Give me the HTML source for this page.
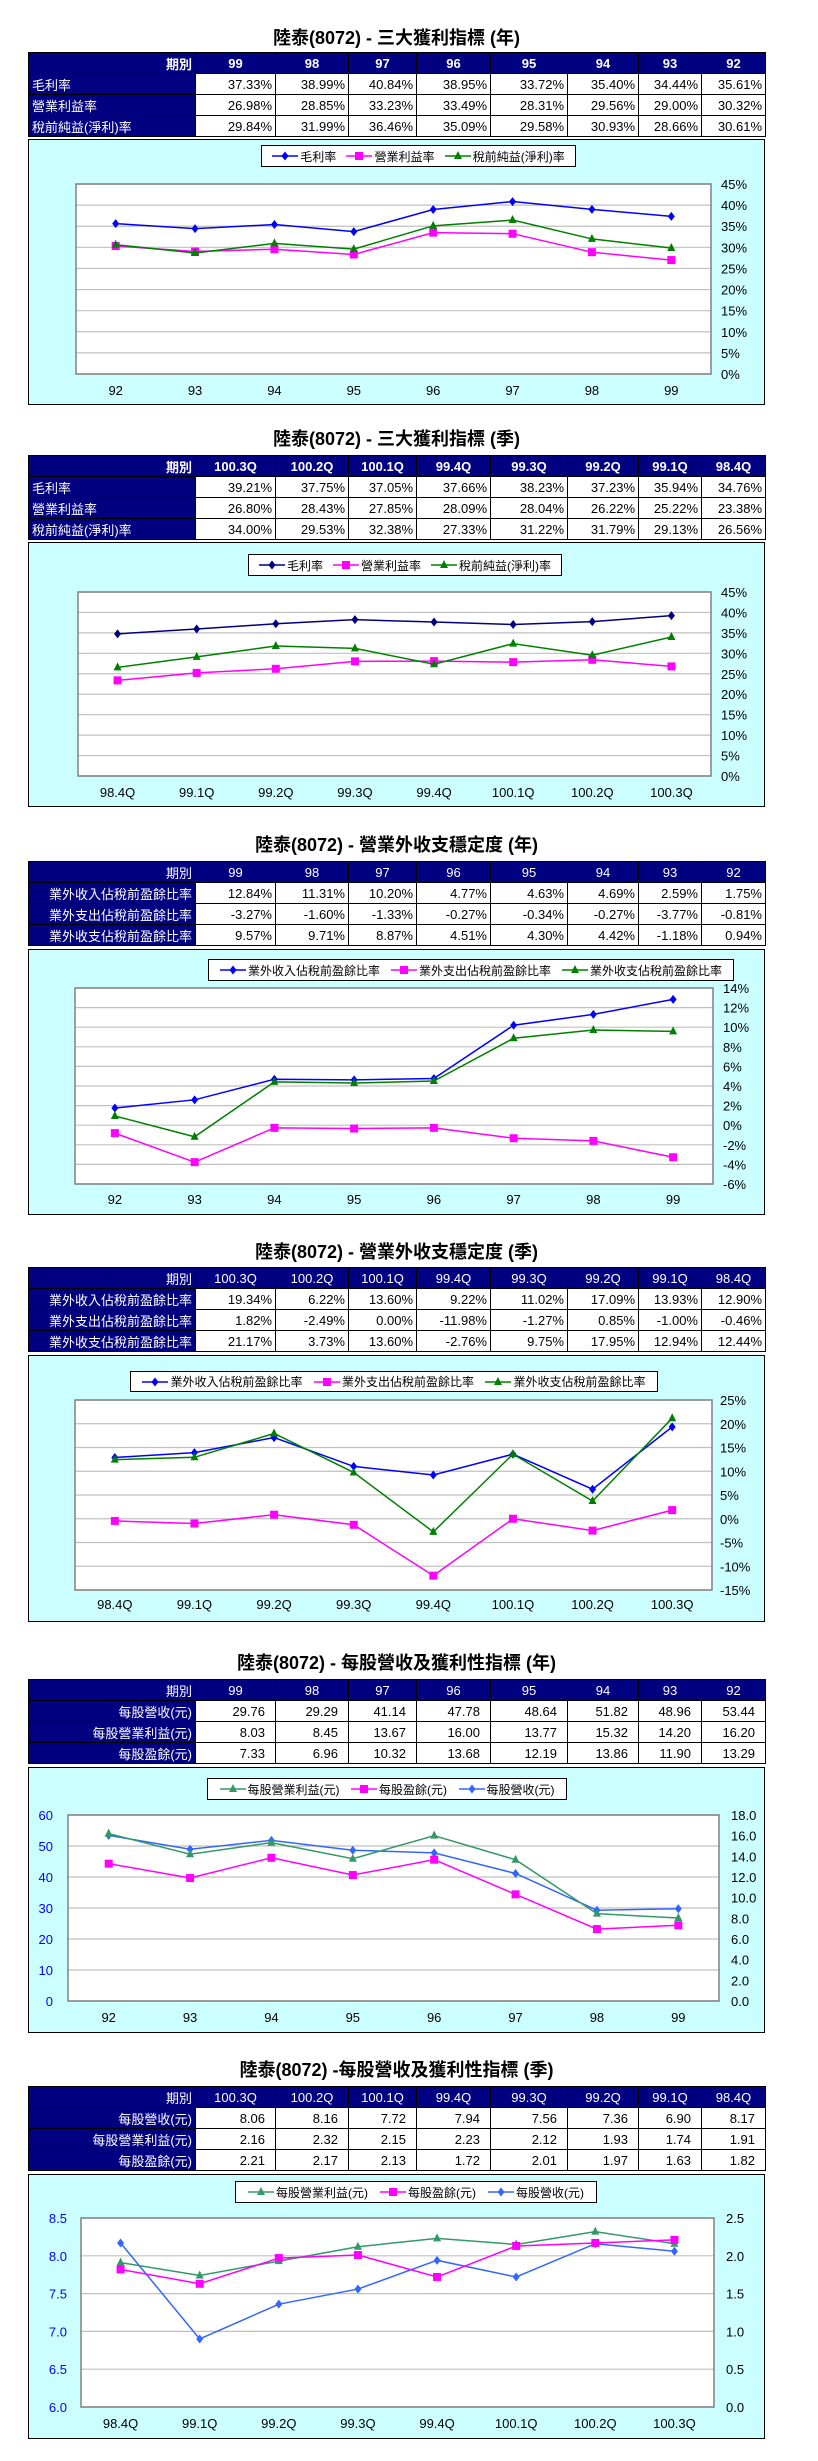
<!DOCTYPE html>
<html><head><meta charset="utf-8">
<style>
body{margin:0;background:#fff;width:818px;height:2461px;position:relative;font-family:"Liberation Sans","Noto Sans CJK TC",sans-serif;overflow:hidden}
.title{position:absolute;left:28px;width:737px;text-align:center;font-size:18px;font-weight:bold;line-height:22px;color:#000}
table{position:absolute;left:28px;width:737px;border-collapse:collapse;table-layout:fixed;font-size:13px}
td{border:1px solid #000;height:20px;padding:0 3px;white-space:nowrap;overflow:hidden;background:#fff;text-align:right;color:#000}
tr.h td{background:#000080;color:#fff;text-align:center}
tr.h td:first-child{text-align:right}
td.l{background:#000080;color:#fff;text-align:left}
td.lr{background:#000080;color:#fff;text-align:right}
.b td{font-weight:bold}
td.n{padding-right:10px}
.chart{position:absolute;left:28px;width:735px;background:#ccffff;border:1px solid #000}
.chart > svg{position:absolute;left:0;top:0}
.legend{position:absolute;background:#fff;border:1px solid #000;display:flex;justify-content:space-evenly;align-items:center;font-size:12px;box-sizing:border-box}
.li{display:flex;align-items:center;white-space:nowrap}
.li svg{position:static;margin-right:2px}
</style></head><body>

<div class="title" style="top:27px">陸泰(8072) - 三大獲利指標 (年)</div>
<table style="top:52px">
<colgroup><col style="width:167px"><col style="width:80px"><col style="width:73px"><col style="width:68px"><col style="width:74px"><col style="width:77px"><col style="width:71px"><col style="width:63px"><col style="width:64px"></colgroup>
<tr class="h b"><td>期別</td><td>99</td><td>98</td><td>97</td><td>96</td><td>95</td><td>94</td><td>93</td><td>92</td></tr>
<tr><td class="l">毛利率</td><td>37.33%</td><td>38.99%</td><td>40.84%</td><td>38.95%</td><td>33.72%</td><td>35.40%</td><td>34.44%</td><td>35.61%</td></tr>
<tr><td class="l">營業利益率</td><td>26.98%</td><td>28.85%</td><td>33.23%</td><td>33.49%</td><td>28.31%</td><td>29.56%</td><td>29.00%</td><td>30.32%</td></tr>
<tr><td class="l">稅前純益(淨利)率</td><td>29.84%</td><td>31.99%</td><td>36.46%</td><td>35.09%</td><td>29.58%</td><td>30.93%</td><td>28.66%</td><td>30.61%</td></tr>
</table>
<div class="chart" id="c1" style="top:139px;height:264px"></div>

<div class="title" style="top:428px">陸泰(8072) - 三大獲利指標 (季)</div>
<table style="top:455px">
<colgroup><col style="width:167px"><col style="width:80px"><col style="width:73px"><col style="width:68px"><col style="width:74px"><col style="width:77px"><col style="width:71px"><col style="width:63px"><col style="width:64px"></colgroup>
<tr class="h b"><td>期別</td><td>100.3Q</td><td>100.2Q</td><td>100.1Q</td><td>99.4Q</td><td>99.3Q</td><td>99.2Q</td><td>99.1Q</td><td>98.4Q</td></tr>
<tr><td class="l">毛利率</td><td>39.21%</td><td>37.75%</td><td>37.05%</td><td>37.66%</td><td>38.23%</td><td>37.23%</td><td>35.94%</td><td>34.76%</td></tr>
<tr><td class="l">營業利益率</td><td>26.80%</td><td>28.43%</td><td>27.85%</td><td>28.09%</td><td>28.04%</td><td>26.22%</td><td>25.22%</td><td>23.38%</td></tr>
<tr><td class="l">稅前純益(淨利)率</td><td>34.00%</td><td>29.53%</td><td>32.38%</td><td>27.33%</td><td>31.22%</td><td>31.79%</td><td>29.13%</td><td>26.56%</td></tr>
</table>
<div class="chart" id="c2" style="top:542px;height:263px"></div>

<div class="title" style="top:834px">陸泰(8072) - 營業外收支穩定度 (年)</div>
<table style="top:861px">
<colgroup><col style="width:167px"><col style="width:80px"><col style="width:73px"><col style="width:68px"><col style="width:74px"><col style="width:77px"><col style="width:71px"><col style="width:63px"><col style="width:64px"></colgroup>
<tr class="h"><td>期別</td><td>99</td><td>98</td><td>97</td><td>96</td><td>95</td><td>94</td><td>93</td><td>92</td></tr>
<tr><td class="lr">業外收入佔稅前盈餘比率</td><td>12.84%</td><td>11.31%</td><td>10.20%</td><td>4.77%</td><td>4.63%</td><td>4.69%</td><td>2.59%</td><td>1.75%</td></tr>
<tr><td class="lr">業外支出佔稅前盈餘比率</td><td>-3.27%</td><td>-1.60%</td><td>-1.33%</td><td>-0.27%</td><td>-0.34%</td><td>-0.27%</td><td>-3.77%</td><td>-0.81%</td></tr>
<tr><td class="lr">業外收支佔稅前盈餘比率</td><td>9.57%</td><td>9.71%</td><td>8.87%</td><td>4.51%</td><td>4.30%</td><td>4.42%</td><td>-1.18%</td><td>0.94%</td></tr>
</table>
<div class="chart" id="c3" style="top:949px;height:264px"></div>

<div class="title" style="top:1241px">陸泰(8072) - 營業外收支穩定度 (季)</div>
<table style="top:1267px">
<colgroup><col style="width:167px"><col style="width:80px"><col style="width:73px"><col style="width:68px"><col style="width:74px"><col style="width:77px"><col style="width:71px"><col style="width:63px"><col style="width:64px"></colgroup>
<tr class="h"><td>期別</td><td>100.3Q</td><td>100.2Q</td><td>100.1Q</td><td>99.4Q</td><td>99.3Q</td><td>99.2Q</td><td>99.1Q</td><td>98.4Q</td></tr>
<tr><td class="lr">業外收入佔稅前盈餘比率</td><td>19.34%</td><td>6.22%</td><td>13.60%</td><td>9.22%</td><td>11.02%</td><td>17.09%</td><td>13.93%</td><td>12.90%</td></tr>
<tr><td class="lr">業外支出佔稅前盈餘比率</td><td>1.82%</td><td>-2.49%</td><td>0.00%</td><td>-11.98%</td><td>-1.27%</td><td>0.85%</td><td>-1.00%</td><td>-0.46%</td></tr>
<tr><td class="lr">業外收支佔稅前盈餘比率</td><td>21.17%</td><td>3.73%</td><td>13.60%</td><td>-2.76%</td><td>9.75%</td><td>17.95%</td><td>12.94%</td><td>12.44%</td></tr>
</table>
<div class="chart" id="c4" style="top:1355px;height:265px"></div>

<div class="title" style="top:1652px">陸泰(8072) - 每股營收及獲利性指標 (年)</div>
<table style="top:1679px">
<colgroup><col style="width:167px"><col style="width:80px"><col style="width:73px"><col style="width:68px"><col style="width:74px"><col style="width:77px"><col style="width:71px"><col style="width:63px"><col style="width:64px"></colgroup>
<tr class="h"><td>期別</td><td>99</td><td>98</td><td>97</td><td>96</td><td>95</td><td>94</td><td>93</td><td>92</td></tr>
<tr><td class="lr">每股營收(元)</td><td class="n">29.76</td><td class="n">29.29</td><td class="n">41.14</td><td class="n">47.78</td><td class="n">48.64</td><td class="n">51.82</td><td class="n">48.96</td><td class="n">53.44</td></tr>
<tr><td class="lr">每股營業利益(元)</td><td class="n">8.03</td><td class="n">8.45</td><td class="n">13.67</td><td class="n">16.00</td><td class="n">13.77</td><td class="n">15.32</td><td class="n">14.20</td><td class="n">16.20</td></tr>
<tr><td class="lr">每股盈餘(元)</td><td class="n">7.33</td><td class="n">6.96</td><td class="n">10.32</td><td class="n">13.68</td><td class="n">12.19</td><td class="n">13.86</td><td class="n">11.90</td><td class="n">13.29</td></tr>
</table>
<div class="chart" id="c5" style="top:1767px;height:264px"></div>

<div class="title" style="top:2059px">陸泰(8072) -每股營收及獲利性指標 (季)</div>
<table style="top:2086px">
<colgroup><col style="width:167px"><col style="width:80px"><col style="width:73px"><col style="width:68px"><col style="width:74px"><col style="width:77px"><col style="width:71px"><col style="width:63px"><col style="width:64px"></colgroup>
<tr class="h"><td>期別</td><td>100.3Q</td><td>100.2Q</td><td>100.1Q</td><td>99.4Q</td><td>99.3Q</td><td>99.2Q</td><td>99.1Q</td><td>98.4Q</td></tr>
<tr><td class="lr">每股營收(元)</td><td class="n">8.06</td><td class="n">8.16</td><td class="n">7.72</td><td class="n">7.94</td><td class="n">7.56</td><td class="n">7.36</td><td class="n">6.90</td><td class="n">8.17</td></tr>
<tr><td class="lr">每股營業利益(元)</td><td class="n">2.16</td><td class="n">2.32</td><td class="n">2.15</td><td class="n">2.23</td><td class="n">2.12</td><td class="n">1.93</td><td class="n">1.74</td><td class="n">1.91</td></tr>
<tr><td class="lr">每股盈餘(元)</td><td class="n">2.21</td><td class="n">2.17</td><td class="n">2.13</td><td class="n">1.72</td><td class="n">2.01</td><td class="n">1.97</td><td class="n">1.63</td><td class="n">1.82</td></tr>
</table>
<div class="chart" id="c6" style="top:2174px;height:263px"></div>

<script>
const yearCats = ['92','93','94','95','96','97','98','99'];
const quarterCats = ['98.4Q','99.1Q','99.2Q','99.3Q','99.4Q','100.1Q','100.2Q','100.3Q'];

const gross1 = [35.61,34.44,35.40,33.72,38.95,40.84,38.99,37.33];
const op1 = [30.32,29.00,29.56,28.31,33.49,33.23,28.85,26.98];
const net1 = [30.61,28.66,30.93,29.58,35.09,36.46,31.99,29.84];

const gross2 = [34.76,35.94,37.23,38.23,37.66,37.05,37.75,39.21];
const op2 = [23.38,25.22,26.22,28.04,28.09,27.85,28.43,26.80];
const net2 = [26.56,29.13,31.79,31.22,27.33,32.38,29.53,34.00];

const inc3 = [1.75,2.59,4.69,4.63,4.77,10.20,11.31,12.84];
const exp3 = [-0.81,-3.77,-0.27,-0.34,-0.27,-1.33,-1.60,-3.27];
const tot3 = [0.94,-1.18,4.42,4.30,4.51,8.87,9.71,9.57];

const inc4 = [12.90,13.93,17.09,11.02,9.22,13.60,6.22,19.34];
const exp4 = [-0.46,-1.00,0.85,-1.27,-11.98,0.00,-2.49,1.82];
const tot4 = [12.44,12.94,17.95,9.75,-2.76,13.60,3.73,21.17];

const rev5 = [53.44,48.96,51.82,48.64,47.78,41.14,29.29,29.76];
const opps5 = [16.20,14.20,15.32,13.77,16.00,13.67,8.45,8.03];
const eps5 = [13.29,11.90,13.86,12.19,13.68,10.32,6.96,7.33];

const rev6 = [8.17,6.90,7.36,7.56,7.94,7.72,8.16,8.06];
const opps6 = [1.91,1.74,1.93,2.12,2.23,2.15,2.32,2.16];
const eps6 = [1.82,1.63,1.97,2.01,1.72,2.13,2.17,2.21];

const pctTicks = [0,5,10,15,20,25,30,35,40,45];
const pctTicks3 = [-6,-4,-2,0,2,4,6,8,10,12,14];
const pctTicks4 = [-15,-10,-5,0,5,10,15,20,25];
const ticks5L = [0,10,20,30,40,50,60];
const ticks5R = [0,2,4,6,8,10,12,14,16,18];
const ticks6L = [6.0,6.5,7.0,7.5,8.0,8.5];
const ticks6R = [0,0.5,1.0,1.5,2.0,2.5];

const NS = 'http://www.w3.org/2000/svg';
function mk(tag, attrs, parent){
  const e = document.createElementNS(NS, tag);
  for (const k in attrs) e.setAttribute(k, attrs[k]);
  parent.appendChild(e);
  return e;
}
function markerSvg(type, color, g, x, y){
  let m;
  if (type==='diamond') m = mk('polygon',{points:`${x},${y-4.5} ${x+3.5},${y} ${x},${y+4.5} ${x-3.5},${y}`,fill:color},g);
  else if (type==='square') m = mk('rect',{x:x-4,y:y-4,width:8,height:8,fill:color},g);
  else m = mk('polygon',{points:`${x},${y-5} ${x+4},${y+3} ${x-4},${y+3}`,fill:color},g);
  return m;
}

function drawChart(c){
  const box = document.getElementById(c.id);
  const W = 735, H = box.clientHeight;
  const svg = mk('svg',{width:W,height:H},box);
  
  
  const p = c.plot;
  mk('rect',{x:p.x0,y:p.y0,width:p.x1-p.x0,height:p.y1-p.y0,fill:'#fff'},svg);
  const yL = v => p.y1 - (v - c.left.min)/(c.left.max - c.left.min)*(p.y1-p.y0);
  const yR = c.right ? (v => p.y1 - (v - c.right.min)/(c.right.max - c.right.min)*(p.y1-p.y0)) : yL;
  const n = c.cats.length, band = (p.x1-p.x0)/n;
  const xS = i => p.x0 + band*(i+0.5);
  c.left.ticks.forEach(t=>{
    const y = yL(t);
    const gl = mk('line',{x1:p.x0,x2:p.x1,y1:y,y2:y,stroke:'#c0c0c0','stroke-width':1.2},svg);
    
    
    const tx = mk('text',{x:c.left.lx,y:y+5,'font-size':13,fill:c.left.color,'text-anchor':c.left.anchor},svg);
    
    
    tx.textContent = c.left.fmt(t);
  });
  if (c.right){
    c.right.ticks.forEach(t=>{
      const tx = mk('text',{x:c.right.lx,y:yR(t)+5,'font-size':13,fill:c.right.color,'text-anchor':'start'},svg);
      
      
      tx.textContent = c.right.fmt(t);
    });
  }
  const fr = mk('rect',{x:p.x0,y:p.y0,width:p.x1-p.x0,height:p.y1-p.y0,fill:'none',stroke:'#808080','stroke-width':1.5},svg);
  
  
  c.cats.forEach((cat,i)=>{
    const tx = mk('text',{x:xS(i),y:c.xly,'font-size':13,'text-anchor':'middle',fill:'#000'},svg);
    
    
    tx.textContent = cat;
  });
  c.series.forEach(s=>{
    const ys = s.axis==='right' ? yR : yL;
    const g = mk('g',{},svg);
    
    
    const pts = s.data.map((v,i)=>xS(i)+','+ys(v)).join(' ');
    const ln = mk('polyline',{points:pts,fill:'none',stroke:s.color,'stroke-width':1.5},g);
    
    
    s.data.forEach((v,i)=>{
      const m = markerSvg(s.marker, s.color, g, xS(i), ys(v));
      
      
    });
  });
  const lg = document.createElement('div');
  lg.className = 'legend';
  
  
  lg.style.left = c.legend.x+'px'; lg.style.top = c.legend.y+'px';
  lg.style.width = c.legend.w+'px'; lg.style.height = c.legend.h+'px';
  c.legendOrder.forEach(idx=>{
    const s = c.series[idx];
    const it = document.createElement('div');
    it.className = 'li';
    
    
    const sv = document.createElementNS(NS,'svg');
    sv.setAttribute('width','26'); sv.setAttribute('height','12');
    mk('line',{x1:0,x2:26,y1:6,y2:6,stroke:s.color,'stroke-width':1.5},sv);
    markerSvg(s.marker, s.color, sv, 13, 6);
    it.appendChild(sv);
    const sp = document.createElement('span');
    sp.textContent = s.name;
    it.appendChild(sp);
    lg.appendChild(it);
  });
  box.appendChild(lg);
}
const pf = t => t + '%';
const f1 = t => t.toFixed(1);
const f0 = t => String(t);

drawChart({id:'c1',cats:yearCats,plot:{x0:47,x1:682,y0:44,y1:234},xly:255,
  left:{min:0,max:45,ticks:pctTicks,fmt:pf,lx:692,anchor:'start',color:'#000'},
  legend:{x:232,y:5,w:315,h:22},legendOrder:[0,1,2],
  series:[{key:'gross-margin',name:'毛利率',data:gross1,color:'#0000ff',marker:'diamond'},
          {key:'op-margin',name:'營業利益率',data:op1,color:'#ff00ff',marker:'square'},
          {key:'net-margin',name:'稅前純益(淨利)率',data:net1,color:'#008000',marker:'triangle'}]});
drawChart({id:'c2',cats:quarterCats,plot:{x0:49,x1:682,y0:49,y1:233},xly:254,
  left:{min:0,max:45,ticks:pctTicks,fmt:pf,lx:692,anchor:'start',color:'#000'},
  legend:{x:219,y:11,w:314,h:22},legendOrder:[0,1,2],
  series:[{key:'gross-margin',name:'毛利率',data:gross2,color:'#000080',marker:'diamond'},
          {key:'op-margin',name:'營業利益率',data:op2,color:'#ff00ff',marker:'square'},
          {key:'net-margin',name:'稅前純益(淨利)率',data:net2,color:'#008000',marker:'triangle'}]});
drawChart({id:'c3',cats:yearCats,plot:{x0:46,x1:684,y0:38,y1:234},xly:254,
  left:{min:-6,max:14,ticks:pctTicks3,fmt:pf,lx:694,anchor:'start',color:'#000'},
  legend:{x:179,y:9,w:526,h:22},legendOrder:[0,1,2],
  series:[{key:'nonop-income',name:'業外收入佔稅前盈餘比率',data:inc3,color:'#0000ff',marker:'diamond'},
          {key:'nonop-expense',name:'業外支出佔稅前盈餘比率',data:exp3,color:'#ff00ff',marker:'square'},
          {key:'nonop-net',name:'業外收支佔稅前盈餘比率',data:tot3,color:'#008000',marker:'triangle'}]});
drawChart({id:'c4',cats:quarterCats,plot:{x0:46,x1:683,y0:44,y1:234},xly:253,
  left:{min:-15,max:25,ticks:pctTicks4,fmt:pf,lx:691,anchor:'start',color:'#000'},
  legend:{x:101,y:15,w:528,h:21},legendOrder:[0,1,2],
  series:[{key:'nonop-income',name:'業外收入佔稅前盈餘比率',data:inc4,color:'#0000ff',marker:'diamond'},
          {key:'nonop-expense',name:'業外支出佔稅前盈餘比率',data:exp4,color:'#ff00ff',marker:'square'},
          {key:'nonop-net',name:'業外收支佔稅前盈餘比率',data:tot4,color:'#008000',marker:'triangle'}]});
drawChart({id:'c5',cats:yearCats,plot:{x0:39,x1:690,y0:47,y1:233},xly:254,
  left:{min:0,max:60,ticks:ticks5L,fmt:f0,lx:24,anchor:'end',color:'#0000ff'},
  right:{min:0,max:18,ticks:ticks5R,fmt:f1,lx:702,color:'#000'},
  legend:{x:178,y:10,w:360,h:22},legendOrder:[1,2,0],
  series:[{key:'revenue-per-share',name:'每股營收(元)',data:rev5,color:'#3366ff',marker:'diamond',axis:'left'},
          {key:'op-income-per-share',name:'每股營業利益(元)',data:opps5,color:'#339966',marker:'triangle',axis:'right'},
          {key:'eps',name:'每股盈餘(元)',data:eps5,color:'#ff00ff',marker:'square',axis:'right'}]});
drawChart({id:'c6',cats:quarterCats,plot:{x0:52,x1:685,y0:43,y1:232},xly:253,
  left:{min:6.0,max:8.5,ticks:ticks6L,fmt:f1,lx:38,anchor:'end',color:'#0000ff'},
  right:{min:0,max:2.5,ticks:ticks6R,fmt:f1,lx:697,color:'#000'},
  legend:{x:206,y:6,w:362,h:22},legendOrder:[1,2,0],
  series:[{key:'revenue-per-share',name:'每股營收(元)',data:rev6,color:'#3366ff',marker:'diamond',axis:'left'},
          {key:'op-income-per-share',name:'每股營業利益(元)',data:opps6,color:'#339966',marker:'triangle',axis:'right'},
          {key:'eps',name:'每股盈餘(元)',data:eps6,color:'#ff00ff',marker:'square',axis:'right'}]});
</script>
</body></html>
